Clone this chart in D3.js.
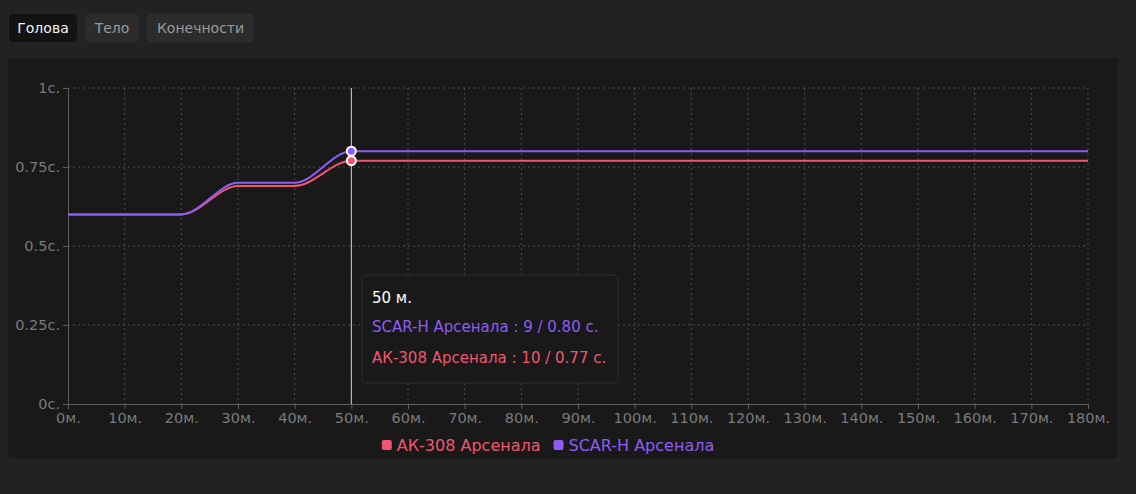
<!DOCTYPE html>
<html><head><meta charset="utf-8">
<script src="https://cdn.jsdelivr.net/npm/d3@7"></script>
<style>
html,body{margin:0;padding:0;background:#222222;width:1136px;height:494px;overflow:hidden;font-family:"DejaVu Sans",sans-serif;}
.tab{position:absolute;top:14px;height:28px;line-height:28px;font-size:14px;border-radius:4px;text-align:center;color:#9a9a9a;background:#2c2c2c;}
.tab.active{background:#131313;color:#f2f2f2;}
#panel{position:absolute;left:8px;top:58px;width:1110px;height:400px;background:#191919;border-radius:3px;}
svg{position:absolute;left:0;top:0;}
svg text{font-family:"DejaVu Sans",sans-serif;}
</style></head>
<body>
<div id="tabs"></div>
<div id="panel"></div>
<svg id="chart" width="1136" height="494"></svg>
<script>
const tabs = ["Голова","Тело","Конечности"];
const distances = [0,10,20,30,40,50,60,70,80,90,100,110,120,130,140,150,160,170,180];
const seriesNames = ["АК-308 Арсенала","SCAR-H Арсенала"];
const akValues   = [0.60,0.60,0.60,0.69,0.69,0.77,0.77,0.77,0.77,0.77,0.77,0.77,0.77,0.77,0.77,0.77,0.77,0.77,0.77];
const scarValues = [0.60,0.60,0.60,0.70,0.70,0.80,0.80,0.80,0.80,0.80,0.80,0.80,0.80,0.80,0.80,0.80,0.80,0.80,0.80];
const yTicks = [0,0.25,0.5,0.75,1];
const yTickLabels = ["0с.","0.25с.","0.5с.","0.75с.","1с."];
const hoverDistance = 50;
const tooltipShots = {"SCAR-H Арсенала":9,"АК-308 Арсенала":10};
const colors = {"АК-308 Арсенала":"#f2566f","SCAR-H Арсенала":"#8d5cf6"};

// tabs
const tabPos = [[9,68],[85,54],[147,107]];
d3.select("#tabs").selectAll("div").data(tabs).join("div")
  .attr("class",(d,i)=>"tab"+(i===0?" active":""))
  .style("left",(d,i)=>tabPos[i][0]+"px").style("width",(d,i)=>tabPos[i][1]+"px")
  .text(d=>d);

const svg = d3.select("#chart");
const x = d3.scaleLinear().domain([0,180]).range([68,1088]);
const y = d3.scaleLinear().domain([0,1]).range([404,88]);

// grid
const grid = svg.append("g");
grid.selectAll(".gx").data(distances.slice(1)).join("line")
  .attr("x1",d=>x(d)).attr("x2",d=>x(d)).attr("y1",88).attr("y2",404)
  .attr("stroke","#4d4d4d").attr("stroke-dasharray","2,3");
grid.selectAll(".gy").data(yTicks.slice(1)).join("line")
  .attr("x1",68).attr("x2",1088).attr("y1",d=>y(d)).attr("y2",d=>y(d))
  .attr("stroke","#4d4d4d").attr("stroke-dasharray","2,3");

// axes
const xAxis = svg.append("g").attr("transform","translate(0,404)")
  .call(d3.axisBottom(x).tickValues(distances).tickFormat(d=>d+"м.").tickSize(5).tickPadding(2));
const yAxis = svg.append("g").attr("transform","translate(68,0)")
  .call(d3.axisLeft(y).tickValues(yTicks).tickFormat((d,i)=>yTickLabels[i]).tickSize(5).tickPadding(3));
[xAxis,yAxis].forEach(a=>{
  a.select(".domain").attr("stroke","#5e5e5e");
  a.selectAll(".tick line").attr("stroke","#5e5e5e");
  a.selectAll("text").attr("fill","#7a7a7a").style("font-size","14.5px");
});
xAxis.selectAll("text").attr("dy","0.85em");
yAxis.selectAll("text").attr("dy","0.32em");

// lines
const line = d3.line().x((d,i)=>x(distances[i])).y(d=>y(d)).curve(d3.curveMonotoneX);
const seriesData = [["АК-308 Арсенала",akValues],["SCAR-H Арсенала",scarValues]];
seriesData.forEach(([name,vals])=>{
  svg.append("path").datum(vals).attr("d",line).attr("fill","none")
    .attr("stroke",colors[name]).attr("stroke-width",2);
});

// crosshair
svg.append("line").attr("x1",x(hoverDistance)).attr("x2",x(hoverDistance)).attr("y1",88).attr("y2",404)
  .attr("stroke","#d0d0d0").attr("stroke-width",1);
const hi = distances.indexOf(hoverDistance);
seriesData.forEach(([name,vals])=>{
  svg.append("circle").attr("cx",x(hoverDistance)).attr("cy",y(vals[hi])).attr("r",4.5)
    .attr("fill",colors[name]).attr("stroke","#ffffff").attr("stroke-width",2);
});

// tooltip
const tt = svg.append("g").attr("transform","translate(362,275)");
tt.append("rect").attr("width",256).attr("height",108).attr("rx",4)
  .attr("fill","#191919").attr("stroke","#2c2c2c");
tt.append("text").attr("x",10).attr("y",28).attr("fill","#ffffff").style("font-size","15px").text(hoverDistance+" м.");
const ttOrder = [["SCAR-H Арсенала",scarValues],["АК-308 Арсенала",akValues]];
ttOrder.forEach(([name,vals],i)=>{
  tt.append("text").attr("x",10).attr("y",57+i*31).attr("fill",colors[name]).style("font-size","15px")
    .text(name+" : "+tooltipShots[name]+" / "+vals[hi].toFixed(2)+" с.");
});

// legend
const leg = svg.append("g").attr("transform","translate(0,445)");
const items = [];
let lx = 0;
seriesNames.forEach((name,i)=>{
  const g = leg.append("g");
  g.append("rect").attr("x",0).attr("y",-5).attr("width",10).attr("height",10).attr("rx",2).attr("fill",colors[name]);
  const t = g.append("text").attr("x",15).attr("y",5.8).attr("fill",colors[name]).style("font-size","16px").text(name);
  const w = 15 + t.node().getComputedTextLength();
  items.push([g,lx]);
  lx += w + 13;
});
const total = lx - 13;
const start = 548 - total/2;
items.forEach(([g,off])=>g.attr("transform","translate("+(start+off)+",0)"));
</script>
</body></html>
